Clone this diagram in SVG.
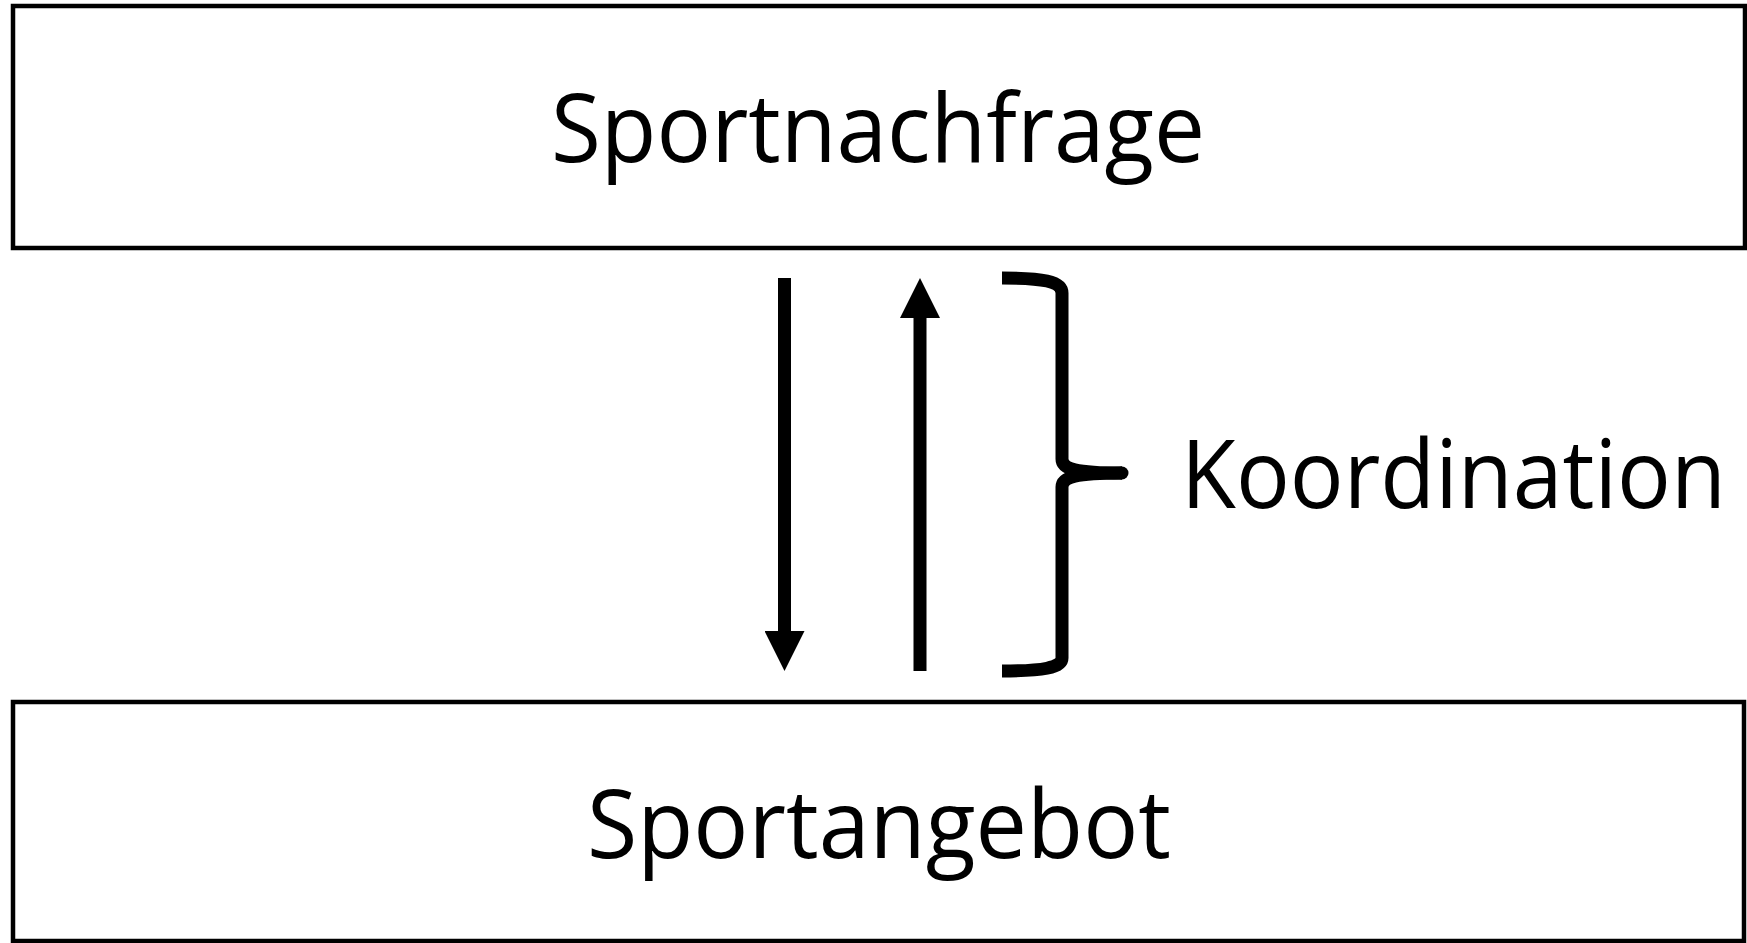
<svg xmlns="http://www.w3.org/2000/svg" width="1747" height="943" viewBox="0 0 1747 943">
  <style>
    .box { fill: #ffffff; stroke: #000000; stroke-width: 4.5; }
    .label { font-family: "Open Sans", "Noto Sans", "Liberation Sans", sans-serif; font-size: 96px; fill: #000000; }
    .shaft { stroke: #000000; stroke-width: 13; fill: none; }
    .brace { stroke: #000000; stroke-width: 13; fill: none; stroke-linecap: butt; stroke-linejoin: round; }
  </style>
  <defs>
    <marker id="head" viewBox="0 0 40 40" refX="0" refY="20" markerWidth="40" markerHeight="40" markerUnits="userSpaceOnUse" orient="auto">
      <path d="M0,0 L40,20 L0,40 Z" fill="#000000"/>
    </marker>
  </defs>
  <rect width="1747" height="943" fill="#ffffff"/>
  <g id="sportnachfrage">
    <rect class="box" x="13" y="6" width="1732" height="242"/>
    <text class="label" x="551" y="162" textLength="654" lengthAdjust="spacingAndGlyphs">Sportnachfrage</text>
  </g>
  <g id="sportangebot">
    <rect class="box" x="13" y="702" width="1731" height="239"/>
    <text class="label" x="587" y="858" textLength="584" lengthAdjust="spacingAndGlyphs">Sportangebot</text>
  </g>
  <g id="connectors">
    <line class="shaft" x1="784.5" y1="278" x2="784.5" y2="631" marker-end="url(#head)"/>
    <line class="shaft" x1="920" y1="671" x2="920" y2="318" marker-end="url(#head)"/>
  </g>
  <g id="koordination">
    <path class="brace" d="M1002,278 C1042,278 1062,281 1062,293 L1062,459 C1062,469 1076,473 1122,473"/>
    <path class="brace" d="M1122,473 C1076,473 1062,477 1062,487 L1062,658 C1062,668 1042,671 1002,671"/>
    <circle cx="1122" cy="473" r="6.5" fill="#000000"/>
    <text class="label" x="1181" y="508" textLength="545" lengthAdjust="spacingAndGlyphs">Koordination</text>
  </g>
</svg>
